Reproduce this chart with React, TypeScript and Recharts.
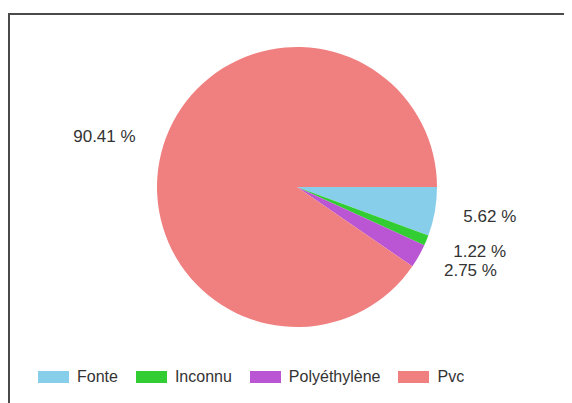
import React from 'react';
import { PieChart, Pie, Cell, Legend } from 'recharts';

const categories = ['Fonte', 'Inconnu', 'Polyéthylène', 'Pvc'];
const percents = [5.62, 1.22, 2.75, 90.41];
const colors = ['#87ceeb', '#32cd32', '#ba55d3', '#f08080'];

const data = categories.map((name, i) => ({ name, value: percents[i] }));

const RAD = Math.PI / 180;

const renderLabel = (props: any) => {
  const { cx, cy, midAngle, outerRadius, index } = props;
  const r = outerRadius + 29;
  const x = cx + r * Math.cos(-midAngle * RAD);
  const y = cy + r * Math.sin(-midAngle * RAD);
  return (
    <text
      x={x}
      y={y}
      fill="#333"
      fontSize={17}
      fontFamily="'Liberation Sans', Arial, sans-serif"
      textAnchor={x > cx ? 'start' : 'end'}
      dominantBaseline="central"
    >
      {`${percents[index].toFixed(2)} %`}
    </text>
  );
};

const renderLegend = () => (
  <div style={{ display: 'flex', alignItems: 'center', fontFamily: "'Liberation Sans', Arial, sans-serif", fontSize: 16, color: '#333' }}>
    {categories.map((c, i) => (
      <div key={c} style={{ display: 'flex', alignItems: 'center', marginRight: 18 }}>
        <span style={{ display: 'inline-block', width: 31, height: 12, background: colors[i], marginRight: 8 }} />
        <span>{c}</span>
      </div>
    ))}
  </div>
);

const App: React.FC = () => {
  return (
    <>
      <style>{'body{overflow:hidden}'}</style>
      <div
        style={{
          marginTop: 5,
          width: 562,
          height: 388,
          borderTop: '2px solid #4a4a4a',
          borderLeft: '2px solid #4a4a4a',
          overflow: 'hidden',
        }}
      >
        <PieChart width={562} height={388}>
          <Pie
            data={data}
            dataKey="value"
            nameKey="name"
            cx={282}
            cy={167}
            outerRadius={140}
            startAngle={0}
            endAngle={-360}
            stroke="none"
            label={renderLabel}
            labelLine={false}
            isAnimationActive={false}
          >
            {data.map((d, i) => (
              <Cell key={d.name} fill={colors[i]} />
            ))}
          </Pie>
          <Legend content={renderLegend} wrapperStyle={{ position: 'absolute', left: 28, top: 353, width: 'auto' }} />
        </PieChart>
      </div>
    </>
  );
};

export default App;
